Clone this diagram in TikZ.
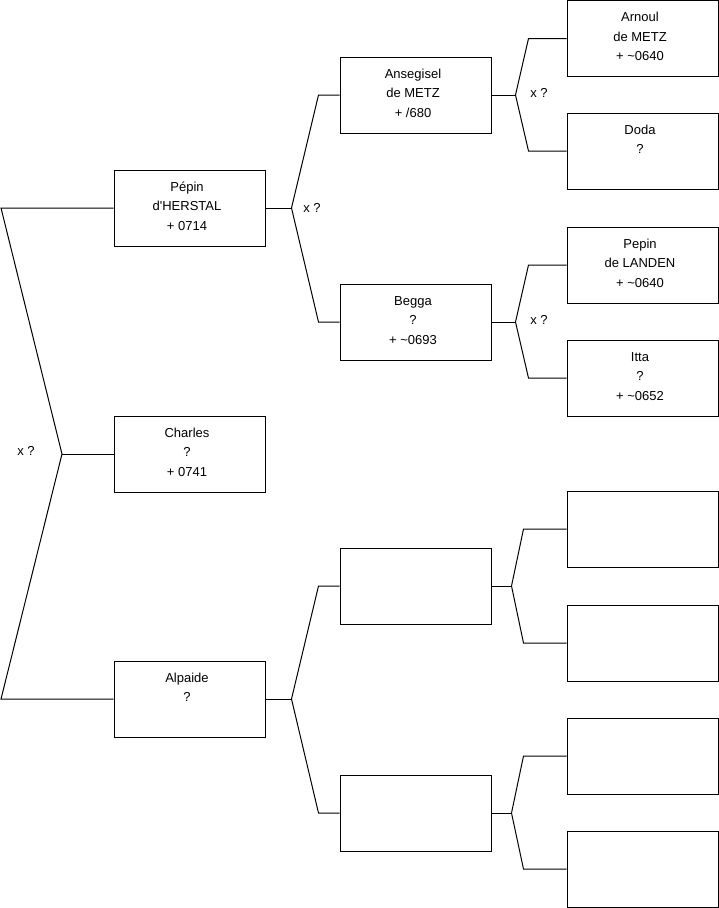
\documentclass[tikz,border=0pt]{standalone}
\usepackage{fontspec}
\newfontfamily\arial{Liberation Sans}
\usetikzlibrary{calc}
\newcommand{\whobox}[1]{\vbox to 76pt{\hsize=151pt\parindent=0pt\centering
  \rightskip=5pt plus 1fil\vskip 7.5pt\strut #1\par\vfil}}

\begin{document}
\begin{tikzpicture}[
    x=1pt, y=-1pt,
    every node/.style={font=\arial\fontsize{13}{19.5}\selectfont},
    person/.style={draw, line width=1pt, inner sep=0pt,
      minimum width=151pt, minimum height=76pt},
    link/.style={line width=1pt},
    union/.style={inner sep=0pt},
  ]

  \useasboundingbox (0,0) rectangle (719,908);

  % === Generation 1 ===
  \node[person] (pepin)   at (189.5,208) {\whobox{Pépin\\d'HERSTAL\\+ 0714}};
  \node[person] (charles) at (189.5,454) {\whobox{Charles\\?\\+ 0741}};
  \node[person] (alpaide) at (189.5,699) {\whobox{Alpaide\\?}};

  % === Generation 2 ===
  \node[person] (ansegisel) at (415.5,95)  {\whobox{Ansegisel\\de METZ\\+ /680}};
  \node[person] (begga)     at (415.5,322) {\whobox{Begga\\?\\+ \textasciitilde0693}};
  \node[person] (alpfa)     at (415.5,586) {};
  \node[person] (alpmo)     at (415.5,813) {};

  % === Generation 3 ===
  \node[person] (arnoul) at (642.5,38.5) {\whobox{Arnoul\\de METZ\\+ \textasciitilde0640}};
  \node[person] (doda)   at (642.5,151)  {\whobox{Doda\\?}};
  \node[person] (landen) at (642.5,265)  {\whobox{Pepin\\de LANDEN\\+ \textasciitilde0640}};
  \node[person] (itta)   at (642.5,378)  {\whobox{Itta\\?\\+ \textasciitilde0652}};
  \node[person] (gp1) at (642.5,529) {};
  \node[person] (gp2) at (642.5,643) {};
  \node[person] (gp3) at (642.5,756) {};
  \node[person] (gp4) at (642.5,869) {};

  % --- Charles: Pepin x Alpaide ---
  \coordinate (top0) at (1,208);
  \coordinate (bot0) at (1,699);
  \coordinate (mid0) at (62,454);
  \draw[link] (pepin.west) -- (top0) -- (mid0) -- (bot0) -- (alpaide.west);
  \draw[link] (mid0) -- (charles.west);
  \node[union] at (26,451) {x ?};

  % --- Pepin: Ansegisel x Begga ---
  \coordinate (j1) at ($(pepin.east)+(26,0)$);
  \draw[link] (pepin.east) -- (j1);
  \draw[link] (ansegisel.west) -- ++(-21,0) -- (j1)
    -- ($(begga.west)+(-21,0)$) -- (begga.west);
  \node[union] at (312,208) {x ?};

  % --- Alpaide: unknown parents ---
  \coordinate (j2) at ($(alpaide.east)+(26,0)$);
  \draw[link] (alpaide.east) -- (j2);
  \draw[link] (alpfa.west) -- ++(-21,0) -- (j2)
    -- ($(alpmo.west)+(-21,0)$) -- (alpmo.west);

  % --- Ansegisel: Arnoul x Doda ---
  \coordinate (j3) at ($(ansegisel.east)+(24,0)$);
  \draw[link] (ansegisel.east) -- (j3);
  \draw[link] (arnoul.west) -- ++(-38,0) -- (j3)
    -- ($(doda.west)+(-38,0)$) -- (doda.west);
  \node[union] at (539,93) {x ?};

  % --- Begga: Pepin de Landen x Itta ---
  \coordinate (j4) at ($(begga.east)+(24,0)$);
  \draw[link] (begga.east) -- (j4);
  \draw[link] (landen.west) -- ++(-38,0) -- (j4)
    -- ($(itta.west)+(-38,0)$) -- (itta.west);
  \node[union] at (539,320) {x ?};

  % --- empty branches ---
  \coordinate (j5) at ($(alpfa.east)+(20,0)$);
  \draw[link] (alpfa.east) -- (j5);
  \draw[link] (gp1.west) -- ++(-43,0) -- (j5)
    -- ($(gp2.west)+(-43,0)$) -- (gp2.west);
  \coordinate (j6) at ($(alpmo.east)+(20,0)$);
  \draw[link] (alpmo.east) -- (j6);
  \draw[link] (gp3.west) -- ++(-43,0) -- (j6)
    -- ($(gp4.west)+(-43,0)$) -- (gp4.west);

\end{tikzpicture}
\end{document}
